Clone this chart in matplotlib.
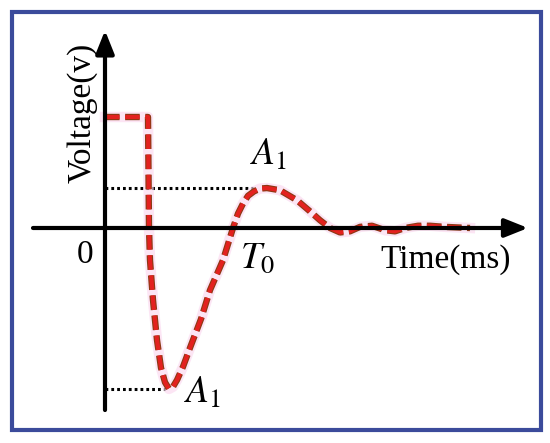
import matplotlib.pyplot as plt
from matplotlib.patches import Rectangle

plt.rcParams['mathtext.fontset'] = 'stix'
plt.rcParams['lines.scale_dashes'] = False

W, H = 550, 443

# signal (time in ms, voltage in step units)
time_ms = [0.0, 0.84, 0.86, 0.88, 0.90, 0.96, 1.04, 1.12, 1.20, 1.28, 1.36, 1.44,
           1.56, 1.70, 1.92, 2.10, 2.36, 2.56, 2.66, 2.76, 2.86, 2.98, 3.10, 3.24,
           3.50, 3.84, 4.10, 4.30, 4.50, 4.70, 4.90, 5.10, 5.34, 5.60, 5.80, 6.00,
           6.26, 6.50, 6.80, 7.30]
voltage = [1.0, 1.0, 1.0, 0.0, -0.29, -0.65, -1.01, -1.26, -1.39, -1.45, -1.43, -1.37,
           -1.25, -1.08, -0.82, -0.56, -0.29, 0.0, 0.13, 0.22, 0.29, 0.33, 0.355, 0.36,
           0.34, 0.25, 0.15, 0.07, 0.0, -0.04, -0.03, 0.01, 0.02, -0.02, -0.03, 0.0,
           0.02, 0.02, 0.01, 0.0]

peak_t, peak_v = 3.24, 0.36
trough_t, trough_v = 1.28, -1.45
axis_x = (-1.44, 8.46)
axis_y = (-1.64, 1.78)


def px(x, y):
    return x / W, 1 - y / H


fig = plt.figure(figsize=(5.5, 4.43), dpi=100)
ax = fig.add_axes([0, 0, 1, 1])
ax.set_xlim(-2.1, 8.9)
ax.set_ylim(-1.937, 2.054)
ax.axis('off')

# axes with arrow heads
arrow = dict(arrowstyle='-|>,head_length=0.7,head_width=0.28', lw=3, color='black',
             mutation_scale=20, shrinkA=0, shrinkB=0)
ax.annotate('', xy=(axis_x[1], 0), xytext=(axis_x[0], 0), arrowprops=arrow)
ax.annotate('', xy=(0, axis_y[1]), xytext=(0, axis_y[0]), arrowprops=arrow)

# dotted guides
ax.plot([0, peak_t - 0.28], [peak_v, peak_v], color='black', lw=2.2, dashes=(2, 2.2))
ax.plot([0, trough_t - 0.08], [trough_v, trough_v], color='black', lw=2.2, dashes=(2, 2.2))

# the waveform
ax.plot(time_ms, voltage, color='#fad4ee', lw=7.5, alpha=0.6, solid_joinstyle='round')
ax.plot(time_ms, voltage, color='#8b3a14', lw=4.6, dashes=(10.5, 4))
ax.plot(time_ms, voltage, color='#e3211f', lw=3.0, dashes=(10.5, 4))

serif = 'Liberation Serif'
fig.text(*px(82, 113), 'Voltage(v)', rotation=90, ha='center', va='center',
         fontsize=24, family=serif)
fig.text(*px(380, 268), 'Time(ms)', ha='left', va='baseline', fontsize=24, family=serif)
fig.text(*px(77, 263), '0', ha='left', va='baseline', fontsize=24, family=serif)
fig.text(*px(250, 165), r'$A_1$', ha='left', va='baseline', fontsize=27)
fig.text(*px(184, 403), r'$A_1$', ha='left', va='baseline', fontsize=27)
fig.text(*px(240, 268), r'$T_0$', ha='left', va='baseline', fontsize=27)

fig.patches.append(Rectangle(px(12, 430), (541 - 12) / W, (430 - 12) / H,
                             transform=fig.transFigure, fill=False,
                             edgecolor='#3b4b9b', lw=3))

fig.savefig('out.png', dpi=100)
